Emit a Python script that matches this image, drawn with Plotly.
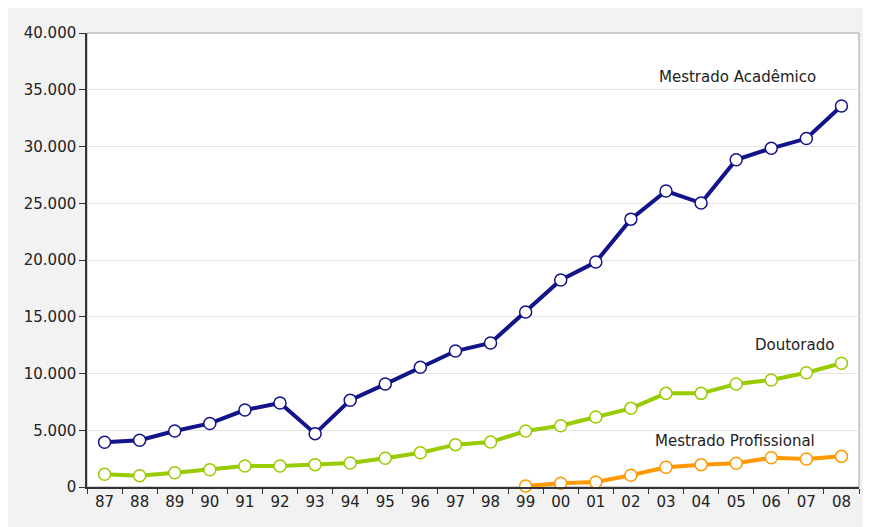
import plotly.graph_objects as go

years = ["87", "88", "89", "90", "91", "92", "93", "94", "95", "96", "97",
         "98", "99", "00", "01", "02", "03", "04", "05", "06", "07", "08"]
mestrado_academico = [3950, 4120, 4930, 5600, 6780, 7400, 4700, 7650, 9070, 10550,
                      11980, 12690, 15420, 18240, 19820, 23600, 26080, 25020,
                      28830, 29840, 30700, 33570]
doutorado = [1120, 1000, 1260, 1520, 1850, 1850, 1970, 2110, 2530, 3020, 3730,
             3960, 4930, 5400, 6170, 6930, 8250, 8250, 9070, 9430, 10070, 10900]
mestrado_profissional = [None] * 12 + [90, 330, 440, 1030, 1740, 1970, 2090,
                                       2580, 2470, 2700]

series = [
    ("Mestrado Acadêmico", mestrado_academico, "#13138a"),
    ("Doutorado", doutorado, "#99cc00"),
    ("Mestrado Profissional", mestrado_profissional, "#ff9900"),
]

FONT = "DejaVu Sans"
fig = go.Figure()
for name, vals, col in series:
    fig.add_trace(go.Scatter(
        x=years, y=vals, name=name, mode="lines+markers",
        line=dict(color=col, width=4),
        marker=dict(size=12, color="white", line=dict(color=col, width=1.5)),
        connectgaps=False, cliponaxis=False,
    ))

labels = [
    ("Mestrado Acadêmico", 0.842, 0.903),
    ("Doutorado", 0.917, 0.313),
    ("Mestrado Profissional", 0.839, 0.101),
]
for txt, xp, yp in labels:
    fig.add_annotation(text=txt, x=xp, y=yp, xref="paper", yref="paper",
                       showarrow=False, xanchor="center", yanchor="middle",
                       font=dict(family=FONT, size=15, color="#222222"))

# plot frame (light grey top/right)
fig.add_shape(type="rect", xref="paper", yref="paper", x0=0, x1=1, y0=0, y1=1,
              line=dict(color="#a0a0a0", width=1), layer="below")

fig.update_layout(
    width=871, height=527,
    margin=dict(l=79, r=20, t=25, b=48),
    paper_bgcolor="#f2f2f2", plot_bgcolor="white",
    separators=",.",
    showlegend=False,
    font=dict(family=FONT, size=15, color="#222222"),
    xaxis=dict(type="category", range=[-0.5, 21.5], tickson="boundaries",
               ticks="outside", ticklen=5, tickcolor="#333333", showgrid=False,
               showline=True, linecolor="#333333", linewidth=1.5,
               tickfont=dict(family=FONT, size=15, color="#222222")),
    yaxis=dict(range=[0, 40000], tickvals=list(range(0, 40001, 5000)),
               tickformat=",d", ticks="outside", ticklen=6, tickcolor="#333333",
               showgrid=True, gridcolor="#e3e3e3", gridwidth=1,
               showline=True, linecolor="#333333", linewidth=1.5, zeroline=False,
               tickfont=dict(family=FONT, size=15, color="#222222")),
)

fig.write_html("out.html")
